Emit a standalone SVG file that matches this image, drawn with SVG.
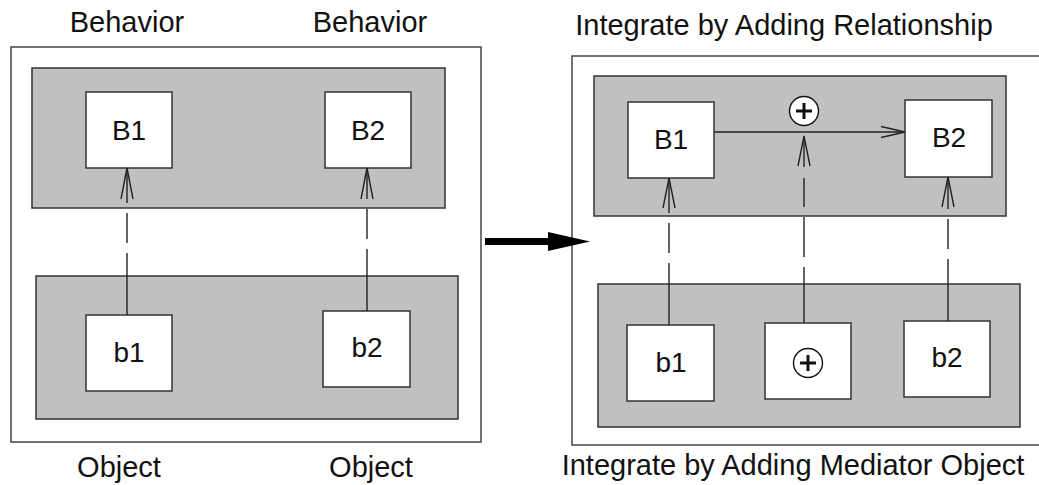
<svg xmlns="http://www.w3.org/2000/svg" width="1039" height="485" viewBox="0 0 1039 485">
  <defs>
    <style>
      .frame { fill: #ffffff; stroke: #444444; stroke-width: 1.5; }
      .layer { fill: #c0c0c0; stroke: #333333; stroke-width: 1.5; }
      .node { fill: #ffffff; stroke: #333333; stroke-width: 1.5; }
      .lbl { font-family: "Liberation Sans", Arial, sans-serif; font-size: 28px; fill: #111111; text-anchor: middle; }
      .cap { font-family: "Liberation Sans", Arial, sans-serif; font-size: 29px; fill: #111111; text-anchor: middle; }
      .link { fill: none; stroke: #222222; stroke-width: 1.4; stroke-dasharray: 62 10 30 10; }
      .solid { fill: none; stroke: #222222; stroke-width: 1.4; }
      .head { fill: none; stroke: #222222; stroke-width: 1.4; }
      .plus { fill: #ffffff; stroke: #111111; stroke-width: 1.4; }
      .plusbar { stroke: #111111; stroke-width: 3; }
    </style>
  </defs>

  <rect width="1039" height="485" fill="#ffffff"/>

  <!-- Left panel: separate behavior and object layers -->
  <g id="left-panel">
    <rect class="frame" x="11" y="47" width="470" height="395"/>
    <rect class="layer" x="32" y="68" width="413" height="140"/>
    <rect class="layer" x="36" y="276" width="422" height="143"/>
  </g>
  <g id="left-B1">
    <rect class="node" x="86" y="92" width="86" height="76"/>
    <text class="lbl" x="129" y="140">B1</text>
  </g>
  <g id="left-B2">
    <rect class="node" x="325" y="92" width="86" height="76"/>
    <text class="lbl" x="368" y="140">B2</text>
  </g>
  <g id="left-b1">
    <rect class="node" x="86" y="315" width="86" height="76"/>
    <text class="lbl" x="129" y="362">b1</text>
  </g>
  <g id="left-b2">
    <rect class="node" x="323" y="311" width="87" height="76"/>
    <text class="lbl" x="367" y="357">b2</text>
  </g>

  <!-- Right panel: integrated layers -->
  <g id="right-panel">
    <rect class="frame" x="572" y="56" width="480" height="389"/>
    <rect class="layer" x="594" y="76" width="412" height="140"/>
    <rect class="layer" x="598" y="284" width="422" height="143"/>
  </g>
  <g id="right-B1">
    <rect class="node" x="628" y="102" width="86" height="76"/>
    <text class="lbl" x="671" y="149">B1</text>
  </g>
  <g id="right-B2">
    <rect class="node" x="905" y="100" width="87" height="77"/>
    <text class="lbl" x="949" y="147">B2</text>
  </g>
  <g id="right-b1">
    <rect class="node" x="627" y="325" width="87" height="76"/>
    <text class="lbl" x="671" y="372">b1</text>
  </g>
  <g id="right-mediator">
    <rect class="node" x="765" y="323" width="86" height="76"/>
    <circle class="plus" cx="808" cy="363" r="14.5"/>
    <line class="plusbar" x1="800" y1="363" x2="816" y2="363"/>
    <line class="plusbar" x1="808" y1="355" x2="808" y2="371"/>
  </g>
  <g id="right-b2">
    <rect class="node" x="904" y="321" width="86" height="76"/>
    <text class="lbl" x="947" y="367">b2</text>
  </g>
  <g id="relationship-mark">
    <circle class="plus" cx="804" cy="111" r="14.5"/>
    <line class="plusbar" x1="796" y1="111" x2="812" y2="111"/>
    <line class="plusbar" x1="804" y1="103" x2="804" y2="119"/>
  </g>

  <!-- Connectors -->
  <g id="connectors">
    <!-- left panel: object realises behavior -->
    <path class="link" d="M127 315 V168"/>
    <path class="head" d="M121 199 L127 168 L133 199"/>
    <path class="link" d="M367 311 V168"/>
    <path class="head" d="M361 199 L367 168 L373 199"/>

    <!-- right panel -->
    <path class="link" d="M669 325 V178"/>
    <path class="head" d="M663 208 L669 178 L675 208"/>
    <path class="link" style="stroke-dasharray: 56 10 40 10 29 11 31" d="M804 323 V136"/>
    <path class="head" d="M798 166 L804 136 L810 166"/>
    <path class="link" d="M948 321 V177"/>
    <path class="head" d="M942 207 L948 177 L954 207"/>

    <!-- added relationship B1 -> B2 -->
    <path class="solid" d="M714 132 H905"/>
    <path class="head" d="M881 126.5 L905 132 L881 137.5"/>

    <!-- transformation arrow between panels -->
    <polygon fill="#000000" points="485,238 548,238 548,232 590,241.5 548,251 548,245 485,245"/>
  </g>

  <!-- Captions -->
  <text class="cap" x="127" y="32">Behavior</text>
  <text class="cap" x="370" y="32">Behavior</text>
  <text class="cap" x="119" y="477">Object</text>
  <text class="cap" x="371" y="477">Object</text>
  <text class="cap" x="784" y="35">Integrate by Adding Relationship</text>
  <text class="cap" x="793" y="475">Integrate by Adding Mediator Object</text>
</svg>
